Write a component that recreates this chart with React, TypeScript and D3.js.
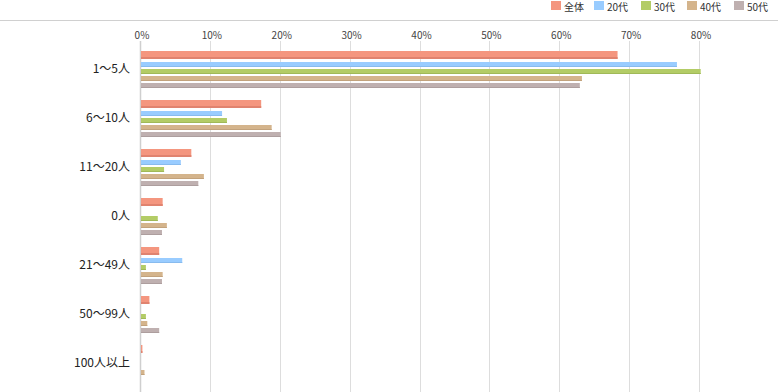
import { useEffect, useRef } from 'react';
import * as d3 from 'd3';

// categories (top to bottom)
const categories = ['1〜5人', '6〜10人', '11〜20人', '0人', '21〜49人', '50〜99人', '100人以上'];
const seriesNames = ['全体', '20代', '30代', '40代', '50代'];
const seriesColors = ['#f4967f', '#99ccff', '#b3cc66', '#d4b48c', '#bfb0b0'];
const seriesShade = ['#e0836f', '#88bbee', '#a0b958', '#c2a27c', '#ad9e9e'];

// percent values per series, in category order
const allValues = [68.2, 17.2, 7.2, 3.1, 2.6, 1.2, 0.2];
const age20Values = [76.7, 11.6, 5.7, 0, 5.9, 0, 0];
const age30Values = [80.1, 12.3, 3.3, 2.4, 0.7, 0.7, 0];
const age40Values = [63.1, 18.7, 9.0, 3.7, 3.1, 0.9, 0.5];
const age50Values = [62.8, 20.0, 8.2, 3.0, 3.0, 2.6, 0];
const seriesValues = [allValues, age20Values, age30Values, age40Values, age50Values];

const xTicks = [0, 10, 20, 30, 40, 50, 60, 70, 80];

const W = 778;
const H = 392;
const FONT = '"Noto Sans CJK JP", "Noto Sans", sans-serif';

export default function App() {
  const svgRef = useRef<SVGSVGElement>(null);

  useEffect(() => {
    document.body.style.margin = '0';
    if (!svgRef.current) return;
    const svg = d3.select(svgRef.current);
    svg.selectAll('*').remove();

    const x = d3.scaleLinear().domain([0, 80]).range([141, 700]);
    const y = d3.scaleBand().domain(categories).range([51, 51 + 49 * categories.length]).paddingInner(0);
    const ySub = d3.scaleBand().domain(seriesNames.slice(1)).range([11, 37]).paddingInner(2 / 7);

    // top rule
    svg.append('line').attr('x1', 0).attr('x2', W).attr('y1', 20.5).attr('y2', 20.5)
      .attr('stroke', '#d0d0d0').attr('stroke-width', 1);

    // grid + tick labels
    const grid = svg.append('g');
    xTicks.forEach(t => {
      const gx = Math.round(x(t)) - 0.5;
      grid.append('line').attr('x1', gx).attr('x2', gx).attr('y1', 41).attr('y2', H)
        .attr('stroke', t === 0 ? '#cfcfcf' : '#dddddd').attr('stroke-width', t === 0 ? 1.5 : 1);
      grid.append('text').attr('x', x(t) + 1).attr('y', 39)
        .attr('text-anchor', 'middle').style('font-size', '10px').style('fill', '#444')
        .style('font-family', FONT).text(`${t}%`);
    });

    // bars
    const bars = svg.append('g');
    seriesNames.forEach((s, si) => {
      const vals = seriesValues[si];
      categories.forEach((c, ci) => {
        const v = vals[ci];
        if (!v) return;
        const top = (y(c) as number) + (si === 0 ? 0 : (ySub(s) as number));
        const h = si === 0 ? 8 : 5;
        const w = Math.max(1, x(v) - x(0));
        bars.append('rect').attr('x', x(0)).attr('y', top).attr('width', w).attr('height', h)
          .attr('fill', seriesColors[si]);
        bars.append('rect').attr('x', x(0)).attr('y', top + h - (si === 0 ? 2 : 1)).attr('width', w)
          .attr('height', si === 0 ? 2 : 1).attr('fill', seriesShade[si]);
      });
    });

    // category labels
    svg.append('g').selectAll('text').data(categories).join('text')
      .attr('x', 130).attr('y', d => (y(d) as number) + 19)
      .attr('text-anchor', 'end').attr('dominant-baseline', 'middle')
      .style('font-size', '12px').style('fill', '#222').style('font-family', FONT)
      .text(d => d);

    // legend
    const legendX = [551, 594, 641, 687, 734];
    const legend = svg.append('g');
    seriesNames.forEach((s, i) => {
      legend.append('rect').attr('x', legendX[i]).attr('y', 1).attr('width', 10).attr('height', 9)
        .attr('fill', seriesColors[i]);
      legend.append('text').attr('x', legendX[i] + 13).attr('y', 10.5)
        .style('font-size', '10px').style('fill', '#333').style('font-family', FONT).text(s);
    });
  }, []);

  return <svg ref={svgRef} width={W} height={H} style={{ display: 'block', background: '#fff' }} />;
}
